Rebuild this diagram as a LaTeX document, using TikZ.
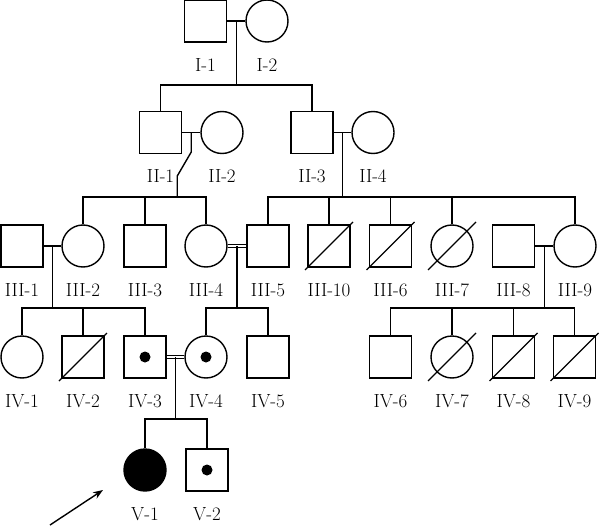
\documentclass[tikz,border=0pt]{standalone}
\usetikzlibrary{arrows.meta, positioning, calc}
\begin{document}
\begin{tikzpicture}[
        x=1pt, y=-1pt,
        line width=1.4pt,
        label distance=15pt,
        lbl/.style={font=\fontsize{19}{22}\selectfont, inner sep=0pt},
        male/.style={draw, rectangle, minimum size=42pt, inner sep=0pt},
        female/.style={draw, circle, minimum size=42pt, inner sep=0pt},
        affected/.style={fill=black},
        couple/.style={double, double distance=2.5pt, line width=1.1pt},
        arrow/.style={-{Stealth[length=3.5mm, width=2.6mm]}, line width=1.4pt}
    ]
    \useasboundingbox (0,0) rectangle (600,527);
    % generation I
    \node[male, label={[lbl]below:I-1}] (I1) at (205.5,21) {};
    \node[female, label={[lbl]below:I-2}] (I2) at (267,21) {};
    % generation II
    \node[male, label={[lbl]below:II-1}] (II1) at (160.5,132.5) {};
    \node[female, label={[lbl]below:II-2}] (II2) at (222,132.5) {};
    \node[male, label={[lbl]below:II-3}] (II3) at (312,132.5) {};
    \node[female, label={[lbl]below:II-4}] (II4) at (373,132.5) {};
    % generation III
    \node[male, label={[lbl]below:III-1}] (III1) at (22,246) {};
    \node[female, label={[lbl]below:III-2}] (III2) at (83,246) {};
    \node[male, label={[lbl]below:III-3}] (III3) at (145,246) {};
    \node[female, label={[lbl]below:III-4}] (III4) at (206,246) {};
    \node[male, label={[lbl]below:III-5}] (III5) at (268,246) {};
    \node[male, label={[lbl]below:III-10}] (III10) at (329,246) {};
    \node[male, label={[lbl]below:III-6}] (III6) at (390.5,246) {};
    \node[female, label={[lbl]below:III-7}] (III7) at (452,246) {};
    \node[male, label={[lbl]below:III-8}] (III8) at (513.5,246) {};
    \node[female, label={[lbl]below:III-9}] (III9) at (575,246) {};
    % generation IV
    \node[female, label={[lbl]below:IV-1}] (IV1) at (22,357) {};
    \node[male, label={[lbl]below:IV-2}] (IV2) at (83,357) {};
    \node[male, label={[lbl]below:IV-3}] (IV3) at (145,357) {};
    \node[female, label={[lbl]below:IV-4}] (IV4) at (206,357) {};
    \node[male, label={[lbl]below:IV-5}] (IV5) at (268,357) {};
    \node[male, label={[lbl]below:IV-6}] (IV6) at (390.5,357) {};
    \node[female, label={[lbl]below:IV-7}] (IV7) at (452,357) {};
    \node[male, label={[lbl]below:IV-8}] (IV8) at (513.5,357) {};
    \node[male, label={[lbl]below:IV-9}] (IV9) at (574.5,357) {};
    % generation V
    \node[female, affected, label={[lbl]below:V-1}] (V1) at (145,470) {};
    \node[male, label={[lbl]below:V-2}] (V2) at (207,470) {};

    % I-1 x I-2
    \draw (I1) -- (I2);
    \coordinate (mI) at ($(I1.east)!.5!(I2.west)$);
    \draw (mI) -- ++(0,64) coordinate (sI);
    \draw (II1.north) |- (sI) -| (II3.north);
    % II-1 x II-2
    \draw (II1) -- (II2);
    \coordinate (mII1) at ($(II1.east)!.5!(II2.west)$);
    \draw (mII1) -- ++(0,19.5) -- ++(-14,24) -- ++(0,21) coordinate (sII1);
    \draw (III2.north) |- (sII1) -| (III4.north);
    \draw (III3.north) -- (III3.north |- sII1);
    % II-3 x II-4
    \draw (II3) -- (II4);
    \coordinate (mII2) at ($(II3.east)!.5!(II4.west)$);
    \draw (mII2) -- ++(0,64.5) coordinate (sII2);
    \draw (III5.north) |- (sII2) -| (III9.north);
    \foreach \n in {III10,III6,III7}
        \draw (\n.north) -- (\n.north |- sII2);
    % III-1 x III-2
    \draw (III1) -- (III2);
    \coordinate (mIII1) at ($(III1.east)!.5!(III2.west)$);
    \draw (mIII1) -- ++(0,62) coordinate (sIII1);
    \draw (IV1.north) |- (sIII1) -| (IV3.north);
    \draw (IV2.north) -- (IV2.north |- sIII1);
    % III-4 = III-5
    \draw[couple] (III4) -- (III5);
    \coordinate (mIII2) at ($(III4.east)!.5!(III5.west)$);
    \draw (mIII2) -- ++(0,62) coordinate (sIII2);
    \draw (IV4.north) |- (sIII2) -| (IV5.north);
    % III-8 x III-9
    \draw (III8) -- (III9);
    \coordinate (mIII3) at ($(III8.east)!.5!(III9.west)$);
    \draw (mIII3) -- ++(0,62) coordinate (sIII3);
    \draw (IV6.north) |- (sIII3) -| (IV9.north);
    \foreach \n in {IV7,IV8}
        \draw (\n.north) -- (\n.north |- sIII3);
    % IV-3 = IV-4
    \draw[couple] (IV3) -- (IV4);
    \coordinate (mIV) at ($(IV3.east)!.5!(IV4.west)$);
    \draw (mIV) -- ++(0,62) coordinate (sIV);
    \draw (V1.north) |- (sIV) -| (V2.north);

    % deceased
    \foreach \n in {III10,III6,III7,IV2,IV7,IV8,IV9}
        \draw ([shift={(-24,24)}]\n.center) -- ([shift={(24,-24)}]\n.center);
    % carriers
    \foreach \n in {IV3,IV4,V2}
        \fill (\n.center) circle[radius=5.5pt];

    % proband
    \coordinate (tail) at (50,525);
    \coordinate (tip) at (103,490);
    \draw[arrow] (tail) -- (tip);
\end{tikzpicture}
\end{document}
